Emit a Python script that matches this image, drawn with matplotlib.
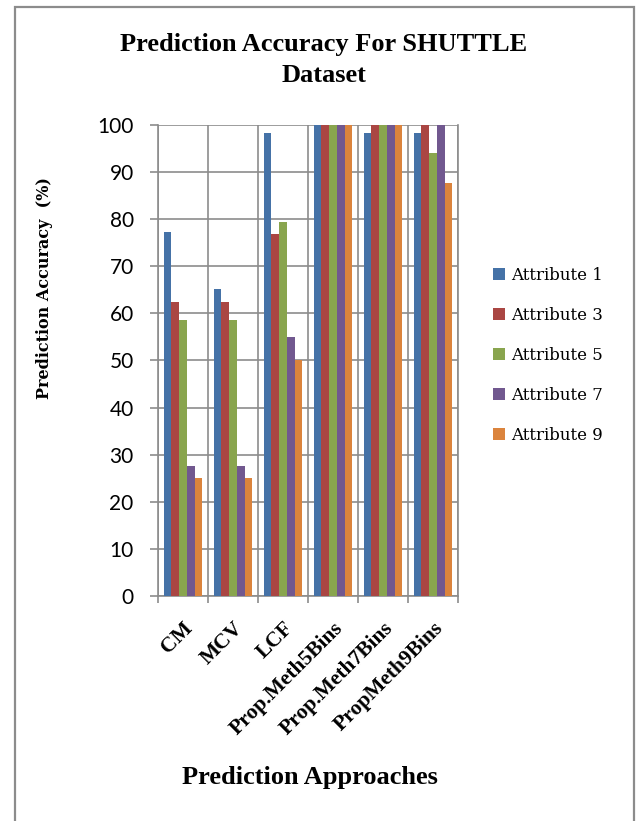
import matplotlib
matplotlib.use("Agg")
import matplotlib.pyplot as plt
from matplotlib import font_manager
import numpy as np
from matplotlib.patches import Rectangle

categories = ["CM", "MCV", "LCF", "Prop.Meth5Bins", "Prop.Meth7Bins", "PropMeth9Bins"]
series_names = ["Attribute 1", "Attribute 3", "Attribute 5", "Attribute 7", "Attribute 9"]
attr1 = [77.3, 65.1, 98.2, 100, 98.2, 98.2]
attr3 = [62.4, 62.4, 76.8, 100, 100, 100]
attr5 = [58.7, 58.7, 79.5, 100, 100, 94.1]
attr7 = [27.5, 27.5, 54.9, 100, 100, 100]
attr9 = [25.0, 25.0, 50.1, 100, 100, 87.7]
yticks = [0, 10, 20, 30, 40, 50, 60, 70, 80, 90, 100]
colors = ["#4572A7", "#AA4643", "#89A54E", "#71588F", "#DB843D"]

names = {f.name for f in font_manager.fontManager.ttflist}
tick_font = "Liberation Sans Narrow" if "Liberation Sans Narrow" in names else "Lato"

W, H = 638, 821
fig = plt.figure(figsize=(W / 100, H / 100), dpi=100)

# frame
fig.add_artist(Rectangle((15 / W, -0.01), (634 - 15) / W, 1.01 - 7 / H,
                         transform=fig.transFigure, fill=False,
                         edgecolor="#8c8c8c", linewidth=1.6))

ax = fig.add_axes([158 / W, 1 - 596 / H, 300 / W, (596 - 125) / H])
data = [attr1, attr3, attr5, attr7, attr9]
n = len(categories)
x = np.arange(n)
bw = 0.77 / 5
for i, (vals, c, name) in enumerate(zip(data, colors, series_names)):
    ax.bar(x - 0.385 + bw * (i + 0.5), vals, width=bw, color=c, label=name, zorder=3)

ax.set_xlim(-0.5, n - 0.5)
ax.set_ylim(0, 100)
ax.set_yticks(yticks)
ax.set_yticklabels([str(v) for v in yticks], fontsize=15, family=tick_font)
ax.set_xticks(x)
ax.set_xticklabels(categories, rotation=45, ha="right", rotation_mode="anchor",
                   family="Liberation Serif", fontweight="bold", fontsize=15.5)
ax.tick_params(axis="x", length=0, pad=16)
ax.set_xticks(np.arange(n + 1) - 0.5, minor=True)
ax.tick_params(axis="x", which="minor", length=5, color="#8c8c8c", width=1.2)
ax.tick_params(axis="y", length=5.5, color="#8c8c8c", width=1.2, pad=12)
ax.grid(axis="y", color="#8c8c8c", linewidth=1.2, zorder=0)
ax.grid(axis="x", which="minor", color="#8c8c8c", linewidth=1.2, zorder=0)
ax.spines["top"].set_visible(False)
for s in ["left", "bottom", "right"]:
    ax.spines[s].set_color("#8c8c8c")
    ax.spines[s].set_linewidth(1.2)

fig.text(324 / W, 1 - 45 / H, "Prediction Accuracy For SHUTTLE", ha="center", va="center",
         family="Liberation Serif", fontweight="bold", fontsize=19)
fig.text(324 / W, 1 - 76 / H, "Dataset", ha="center", va="center",
         family="Liberation Serif", fontweight="bold", fontsize=19)
fig.text(45 / W, 1 - 288 / H, "Prediction Accuracy  (%)", rotation=90, ha="center", va="center",
         family="DejaVu Serif", fontweight="bold", fontsize=11.5)
fig.text(310 / W, 1 - 777 / H, "Prediction Approaches", ha="center", va="center",
         family="Liberation Serif", fontweight="bold", fontsize=19)

leg = ax.legend(loc="center left", bbox_to_anchor=(478 / W, 1 - 355 / H),
                bbox_transform=fig.transFigure, frameon=False,
                prop={"family": "DejaVu Serif", "size": 12},
                handlelength=0.7, handleheight=0.7, handletextpad=0.4,
                labelspacing=1.38)

fig.savefig("out.png", dpi=100)
